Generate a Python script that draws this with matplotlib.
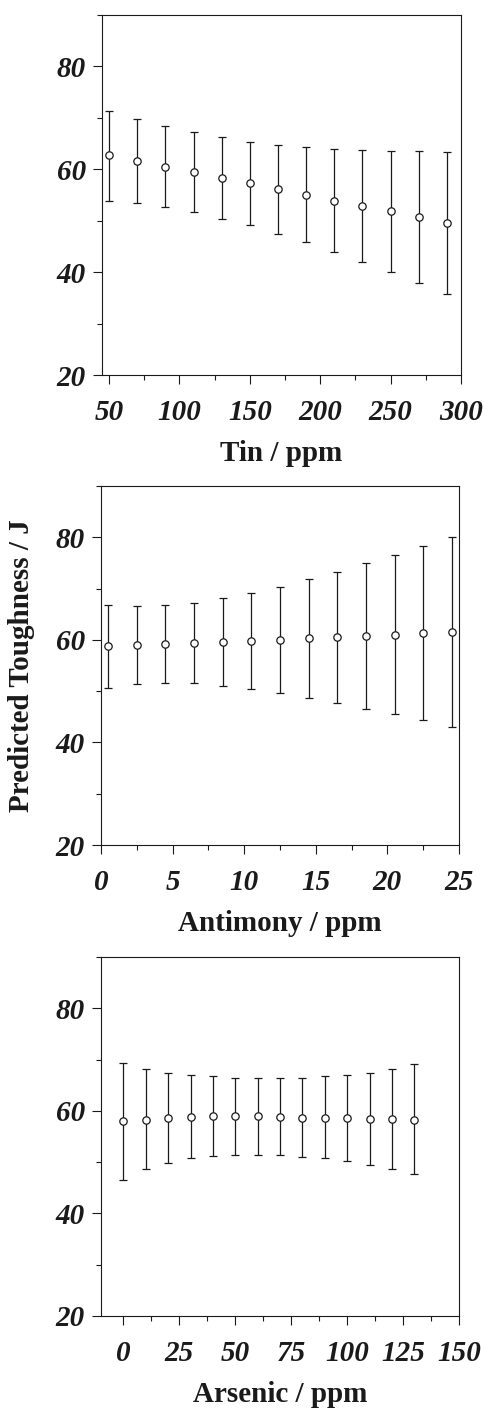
import matplotlib
matplotlib.use("Agg")
import matplotlib.pyplot as plt
from matplotlib.ticker import MultipleLocator

# Tin panel
tin_x = [50, 70, 90, 110, 130, 150, 170, 190, 210, 230, 250, 270, 290]
tin_mean = [62.7, 61.6, 60.5, 59.4, 58.3, 57.3, 56.2, 55.0, 53.9, 52.9, 51.8, 50.7, 49.6]
tin_upper = [71.3, 69.8, 68.4, 67.2, 66.3, 65.3, 64.8, 64.4, 64.0, 63.7, 63.5, 63.5, 63.3]
tin_lower = [53.9, 53.4, 52.6, 51.6, 50.4, 49.1, 47.5, 45.8, 44.0, 42.0, 40.1, 37.9, 35.8]

# Antimony panel
sb_x = [0.5, 2.5, 4.5, 6.5, 8.5, 10.5, 12.5, 14.5, 16.5, 18.5, 20.5, 22.5, 24.5]
sb_mean = [58.8, 59.0, 59.2, 59.3, 59.5, 59.7, 60.0, 60.3, 60.5, 60.7, 61.0, 61.3, 61.6]
sb_upper = [66.8, 66.6, 66.8, 67.2, 68.1, 69.1, 70.4, 71.8, 73.3, 74.9, 76.5, 78.3, 80.1]
sb_lower = [50.7, 51.3, 51.5, 51.5, 51.1, 50.5, 49.7, 48.7, 47.7, 46.6, 45.5, 44.3, 43.1]

# Arsenic panel
as_x = [0, 10, 20, 30, 40, 50, 60, 70, 80, 90, 100, 110, 120, 130]
as_mean = [58.0, 58.3, 58.6, 58.8, 58.9, 58.9, 58.9, 58.8, 58.7, 58.6, 58.6, 58.4, 58.4, 58.3]
as_upper = [69.4, 68.2, 67.3, 66.9, 66.7, 66.5, 66.4, 66.4, 66.5, 66.7, 66.9, 67.4, 68.2, 69.1]
as_lower = [46.6, 48.6, 49.9, 50.8, 51.2, 51.4, 51.4, 51.3, 51.1, 50.8, 50.3, 49.5, 48.7, 47.6]

panels = [
    (tin_x, tin_mean, tin_upper, tin_lower, "Tin / ppm", (45, 300), 50, 25),
    (sb_x, sb_mean, sb_upper, sb_lower, "Antimony / ppm", (0, 25), 5, 2.5),
    (as_x, as_mean, as_upper, as_lower, "Arsenic / ppm", (-10, 150), 25, 12.5),
]

plt.rcParams['font.family'] = ['Liberation Serif', 'DejaVu Serif']
ink = '#1a1a1a'

fig = plt.figure(figsize=(4.84, 14.08), dpi=100)
W, H = 484, 1408
# axes boxes in pixels: left, top, right, bottom
boxes = [(102, 15, 461, 375), (101, 486, 459, 845), (101, 957, 459, 1316)]

for (x, m, up, lo, xlabel, xlim, major, minor), (l, t, r, b) in zip(panels, boxes):
    ax = fig.add_axes([l / W, 1 - b / H, (r - l) / W, (b - t) / H])
    yerr = [[mm - ll for mm, ll in zip(m, lo)], [uu - mm for mm, uu in zip(m, up)]]
    ax.errorbar(x, m, yerr=yerr, fmt='o', mfc='white', mec=ink, ms=5.3, mew=0.9,
                ecolor=ink, elinewidth=0.9, capsize=3, capthick=0.9)
    ax.set_xlim(*xlim)
    ax.set_ylim(20, 90)
    ax.xaxis.set_major_locator(MultipleLocator(major))
    ax.xaxis.set_minor_locator(MultipleLocator(minor))
    ax.yaxis.set_major_locator(MultipleLocator(20))
    ax.yaxis.set_minor_locator(MultipleLocator(10))
    ax.tick_params(which='major', direction='out', length=6.5, width=0.8, color=ink)
    ax.tick_params(which='minor', direction='out', length=3.5, width=0.8, color=ink)
    ax.tick_params(axis='y', pad=5)
    ax.tick_params(axis='x', pad=11)
    for lab in ax.get_xticklabels() + ax.get_yticklabels():
        lab.set_fontsize(21)
        lab.set_fontweight('bold')
        lab.set_fontstyle('italic')
        lab.set_color(ink)
    for s in ax.spines.values():
        s.set_linewidth(0.8)
        s.set_color(ink)
    ax.set_xlabel(xlabel, fontsize=21, fontweight='bold', color=ink, labelpad=10)

fig.text(22 / W, 1 - 666 / H, "Predicted Toughness / J", rotation=90, ha='center',
         va='center', fontsize=21, fontweight='bold', color=ink)

fig.savefig("out.png", dpi=100)
